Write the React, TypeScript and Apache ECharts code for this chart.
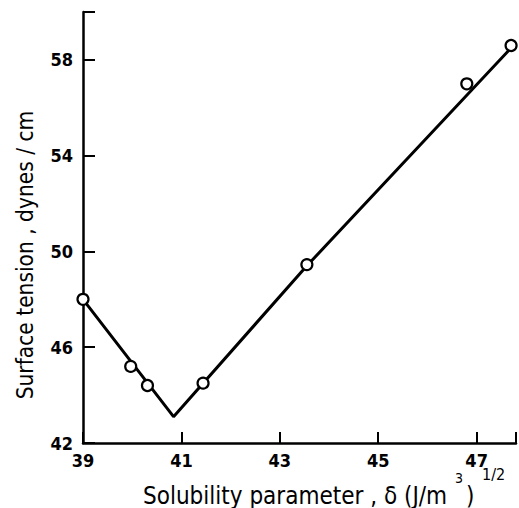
import React, { useEffect, useRef } from "react";
import * as echarts from "echarts";

const xTicks = [39, 41, 43, 45, 47];
const yTicks = [42, 46, 50, 54, 58];
const pointsX = [39.0, 39.97, 40.31, 41.44, 43.55, 46.8, 47.7];
const pointsY = [48.0, 45.2, 44.4, 44.5, 49.45, 57.0, 58.6];
const fitX = [39.0, 40.84, 43.55, 47.7];
const fitY = [48.0, 43.1, 49.4, 58.5];
const xName = "Solubility parameter , δ (J/m";
const yName = "Surface tension , dynes / cm";

export default function App() {
  const ref = useRef<HTMLDivElement>(null);
  useEffect(() => {
    const chart = echarts.init(ref.current!, null, { renderer: "svg" });
    const font = "DejaVu Sans Condensed";
    const txt = (text: string, x: number, y: number, size: number) => ({
      type: "text",
      x,
      y,
      style: {
        text,
        fontFamily: font,
        fontSize: size,
        fill: "#000",
        align: "left",
        verticalAlign: "middle",
      },
    });
    chart.setOption({
      animation: false,
      backgroundColor: "#fff",
      grid: { left: 83, right: 0, top: 12, bottom: 65 },
      xAxis: {
        type: "value",
        min: 39,
        max: 47.8,
        interval: 2,
        axisLine: { lineStyle: { color: "#000", width: 2.5 } },
        axisTick: { inside: true, length: 11, lineStyle: { color: "#000", width: 2 } },
        splitLine: { show: false },
        axisLabel: {
          color: "#000",
          fontFamily: font,
          fontSize: 18,
          fontWeight: "bold",
          margin: 8,
          formatter: (v: number) => (xTicks.includes(v) ? String(v) : ""),
        },
      },
      yAxis: {
        type: "value",
        min: 42,
        max: 60,
        interval: 4,
        axisLine: { lineStyle: { color: "#000", width: 2.5 } },
        axisTick: { inside: true, length: 12, lineStyle: { color: "#000", width: 2 } },
        splitLine: { show: false },
        axisLabel: {
          color: "#000",
          fontFamily: font,
          fontSize: 18,
          fontWeight: "bold",
          margin: 10,
          formatter: (v: number) => (yTicks.includes(v) ? String(v) : ""),
        },
      },
      graphic: [
        {
          type: "text",
          x: 24.5,
          y: 255,
          rotation: Math.PI / 2,
          style: {
            text: yName,
            fontFamily: font,
            fontSize: 22.5,
            fill: "#000",
            align: "center",
            verticalAlign: "middle",
          },
        },
        txt(xName, 143, 495.5, 24),
        txt("3", 455, 478, 14),
        txt(")", 466, 495.5, 24),
        txt("1/2", 482, 474, 16),
      ],
      series: [
        {
          type: "line",
          data: fitX.map((x, i) => [x, fitY[i]]),
          symbol: "none",
          lineStyle: { color: "#000", width: 3 },
          z: 2,
        },
        {
          type: "scatter",
          data: pointsX.map((x, i) => [x, pointsY[i]]),
          symbol: "circle",
          symbolSize: 11,
          itemStyle: { color: "#fff", borderColor: "#000", borderWidth: 2.2, opacity: 1 },
          z: 3,
        },
      ],
    });
    return () => chart.dispose();
  }, []);
  return (
    <div
      ref={ref}
      style={{ position: "fixed", left: 0, top: 0, width: 519, height: 508 }}
    />
  );
}
